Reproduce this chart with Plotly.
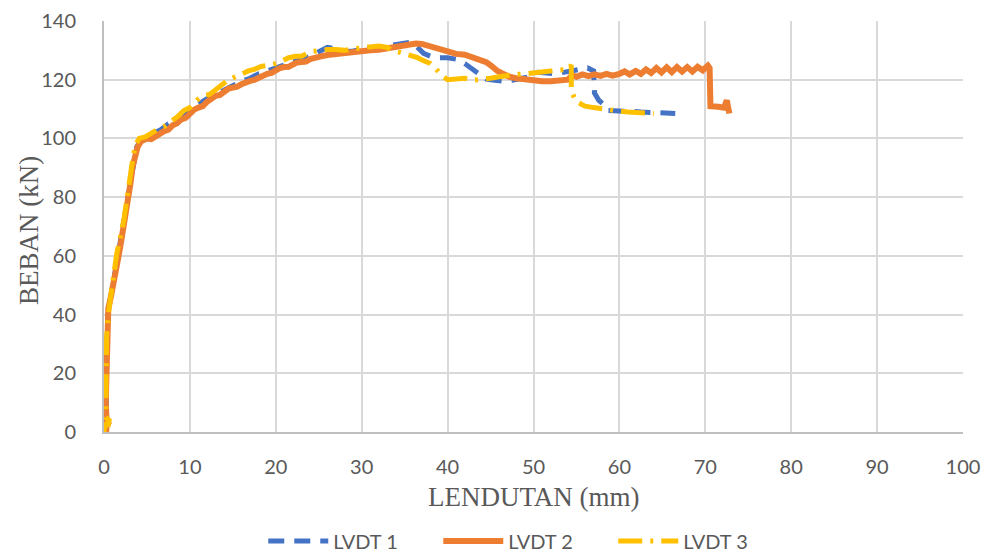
import plotly.graph_objects as go

# LVDT 1 – deflection (mm) and load (kN)
x1 = [0.2, 0.3, 0.25, 0.3, 0.45, 0.9, 1.3, 1.7, 2.1, 2.5, 2.8, 3.1, 3.4, 3.8, 4.3, 5.0, 5.8, 6.6, 7.5, 8.4,
      9.2, 10.0, 11.0, 12.0, 13.0, 14.0, 15.0, 16.0, 17.0, 18.0, 19.0, 20.0, 21.0, 22.0, 23.0, 24.0, 25.0, 26.0,
      27.0, 28.0, 29.0, 30.0, 31.0, 32.0, 33.0, 34.0, 35.0, 35.8, 36.5, 37.2, 38.0, 39.0, 40.0, 41.0, 42.0, 43.0,
      43.8, 44.5, 45.5, 46.5, 47.5, 48.5, 49.5, 50.5, 51.5, 52.5, 53.5, 54.5, 55.5, 56.3, 57.0, 57.1, 57.6, 58.2,
      58.6, 59.5, 60.5, 61.5, 62.5, 63.5, 64.5, 65.5, 66.5]
y1 = [0.0, 5.0, 15.0, 30.0, 40.0, 48.0, 55.0, 62.0, 68.0, 75.0, 81.0, 87.0, 92.0, 97.0, 99.5, 100.5, 101.5, 103.0,
      105.0, 106.5, 108.5, 110.0, 111.5, 113.5, 115.0, 116.5, 118.0, 119.5, 120.5, 122.0, 123.0, 124.0, 125.0,
      126.0, 127.0, 128.0, 129.5, 131.0, 130.5, 129.5, 129.8, 130.2, 130.5, 131.0, 131.5, 132.0, 132.5, 132.8,
      131.0, 129.0, 128.0, 127.5, 127.5, 127.0, 125.5, 123.5, 121.5, 120.2, 119.8, 119.5, 119.8, 120.5, 121.0,
      122.5, 122.3, 122.0, 122.5, 123.0, 123.5, 124.0, 123.0, 115.5, 113.0, 111.5, 109.5, 109.5, 109.3, 109.2,
      109.0, 108.9, 108.7, 108.5, 108.5]

# LVDT 2
x2 = [0.25, 0.3, 0.5, 0.3, 0.2, 0.25, 0.3, 0.35, 0.5, 0.8, 1.1, 1.4, 1.7, 2.0, 2.3, 2.6, 2.8, 3.1, 3.3, 3.6, 3.9,
      4.3, 5.0, 5.5, 6.0, 6.5, 7.0, 7.5, 8.0, 8.5, 9.0, 9.5, 10.0, 10.5, 11.0, 11.5, 12.0, 12.5, 13.0, 13.5,
      14.0, 14.5, 15.0, 15.5, 16.0, 16.5, 17.0, 17.5, 18.0, 18.5, 19.0, 19.5, 20.0, 20.5, 21.0, 21.5, 22.0,
      22.5, 23.0, 23.5, 24.0, 24.5, 25.0, 26.0, 27.0, 28.0, 29.0, 30.0, 31.0, 32.0, 33.0, 34.0, 35.0, 36.3,
      37.0, 37.8, 38.5, 39.3, 40.0, 41.0, 42.0, 43.0, 43.8, 44.5, 45.2, 45.8, 46.5, 47.2, 48.0, 49.0, 50.0,
      51.0, 52.0, 53.0, 54.0, 54.5, 55.0, 55.7, 56.4, 57.1, 57.8, 58.5, 59.2, 60.0, 60.6, 61.2, 61.9, 62.5,
      63.1, 63.7, 64.3, 64.9, 65.5, 66.1, 66.7, 67.3, 67.9, 68.5, 69.1, 69.7, 70.3, 70.5, 70.6, 71.5, 72.2,
      72.5, 72.7, 72.8]
y2 = [0.0, 2.0, 3.0, 4.0, 10.0, 20.0, 30.0, 38.0, 42.0, 46.0, 50.0, 55.0, 60.0, 65.0, 70.0, 75.0, 80.0, 85.0,
      90.0, 94.0, 97.0, 99.0, 100.0, 99.8, 100.8, 101.2, 102.5, 103.0, 104.5, 105.2, 106.5, 107.0, 108.5,
      109.8, 110.5, 111.0, 112.5, 113.8, 114.5, 114.8, 116.0, 117.0, 117.3, 117.6, 118.5, 119.2, 119.6, 119.9,
      120.8, 121.6, 122.0, 122.3, 123.2, 124.0, 124.3, 124.4, 125.2, 125.9, 126.0, 126.2, 127.0, 127.6, 127.8,
      128.4, 128.8, 129.2, 129.5, 129.8, 130.0, 130.2, 130.8, 131.3, 131.6, 132.3, 132.2, 131.5, 131.0, 130.0,
      129.5, 128.8, 128.5, 127.5, 127.0, 126.0, 124.5, 123.0, 122.0, 121.0, 120.5, 120.0, 119.8, 119.5, 119.5,
      119.6, 120.0, 121.5, 121.0, 121.8, 121.2, 121.8, 121.3, 122.0, 121.4, 122.0, 122.8, 121.8, 123.0, 122.0,
      123.5, 122.3, 124.0, 122.5, 124.2, 122.6, 124.3, 122.8, 124.3, 122.8, 124.4, 123.2, 124.8, 124.0, 111.0,
      110.8, 110.5, 113.0, 111.0, 108.5]

# LVDT 3
x3 = [0.0, 0.1, 0.5, 0.6, 0.2, 0.2, 0.25, 0.3, 0.5, 0.7, 0.9, 1.2, 1.5, 1.9, 2.3, 2.6, 2.9, 3.1, 3.4, 3.7, 4.1,
      4.8, 5.5, 6.2, 7.0, 7.8, 8.6, 9.3, 10.0, 10.8, 11.5, 12.3, 13.0, 13.8, 14.5, 15.3, 16.0, 16.8, 17.5, 18.3,
      19.2, 20.0, 20.8, 21.5, 22.3, 23.0, 24.0, 25.0, 26.0, 27.0, 28.0, 29.0, 30.0, 31.0, 32.0, 33.0, 33.5,
      34.5, 35.5, 36.5, 37.2, 38.0, 38.7, 39.3, 40.0, 41.0, 42.0, 43.0, 44.0, 45.0, 46.0, 47.0, 48.0, 49.0,
      50.0, 51.0, 52.0, 53.0, 54.0, 54.4, 54.4, 55.0, 55.5, 56.0, 57.0, 58.0, 59.0, 60.0, 61.0, 62.0, 63.0, 64.0]
y3 = [0.0, 3.0, 2.0, 4.0, 5.0, 12.0, 25.0, 32.0, 40.0, 45.0, 49.0, 55.0, 61.0, 66.0, 72.0, 78.0, 84.0, 89.0, 94.0,
      98.0, 100.0, 100.5, 102.0, 103.0, 104.0, 105.5, 107.5, 109.5, 110.5, 113.0, 114.5, 115.0, 116.5, 118.0,
      120.0, 121.0, 122.0, 123.0, 123.5, 124.5, 125.0, 125.5, 126.5, 127.5, 128.0, 128.0, 129.5, 130.0, 130.3,
      130.3, 130.0, 130.5, 130.8, 131.3, 131.5, 131.0, 130.0, 129.3, 128.5, 127.5, 126.5, 125.5, 123.5, 121.5,
      120.0, 120.3, 120.5, 119.8, 120.0, 120.5, 121.0, 121.5, 121.8, 122.0, 122.2, 122.6, 123.0, 123.3, 123.5,
      125.0, 116.0, 112.5, 111.5, 111.0, 110.5, 110.0, 109.5, 109.3, 109.0, 108.8, 108.6, 108.5]

names = ["LVDT 1", "LVDT 2", "LVDT 3"]
colors = ["#4472C4", "#ED7D31", "#FFC000"]

x_ticks = [0, 10, 20, 30, 40, 50, 60, 70, 80, 90, 100]
y_ticks = [0, 20, 40, 60, 80, 100, 120, 140]

fig = go.Figure()
fig.add_trace(go.Scatter(x=x1, y=y1, mode="lines", name=names[0],
                         line=dict(color=colors[0], width=5, dash="16px,10px")))
fig.add_trace(go.Scatter(x=x2, y=y2, mode="lines", name=names[1],
                         line=dict(color=colors[1], width=6)))
fig.add_trace(go.Scatter(x=x3, y=y3, mode="lines", name=names[2],
                         line=dict(color=colors[2], width=5, dash="24px,8px,3px,8px")))

tick_font = dict(family="Lato, Carlito, sans-serif", size=20, color="#595959")
title_font = dict(family="Liberation Serif, Times New Roman, serif", size=27, color="#595959")

fig.update_xaxes(range=[0, 100], tickvals=x_ticks, showgrid=True, gridcolor="#d9d9d9", gridwidth=1.5,
                 zeroline=False, showline=True, linecolor="#bfbfbf", linewidth=2, automargin=False,
                 tickfont=tick_font, ticks="", ticklabelstandoff=16)
fig.update_yaxes(range=[0, 140], tickvals=y_ticks, showgrid=True, gridcolor="#d9d9d9", gridwidth=1.5,
                 zeroline=False, showline=True, linecolor="#bfbfbf", linewidth=2, automargin=False,
                 tickfont=tick_font, ticks="", ticklabelstandoff=22)

fig.update_layout(
    width=987, height=552,
    margin=dict(l=104, r=24, t=21, b=120),
    paper_bgcolor="white", plot_bgcolor="white",
    showlegend=True,
    legend=dict(orientation="h", x=0.491, xanchor="center", yref="container", y=0.02, yanchor="middle",
                font=dict(family="Lato, Carlito, sans-serif", size=20, color="#595959"),
                entrywidth=100, itemwidth=60),
    annotations=[
        dict(text="LENDUTAN (mm)", xref="paper", yref="paper", x=0.5, y=-0.158,
             xanchor="center", yanchor="middle", showarrow=False, font=title_font),
        dict(text="BEBAN (kN)", xref="paper", yref="paper", x=-0.088, y=0.49,
             xanchor="center", yanchor="middle", showarrow=False, textangle=-90, font=title_font),
    ],
)

fig.write_html("out.html")
